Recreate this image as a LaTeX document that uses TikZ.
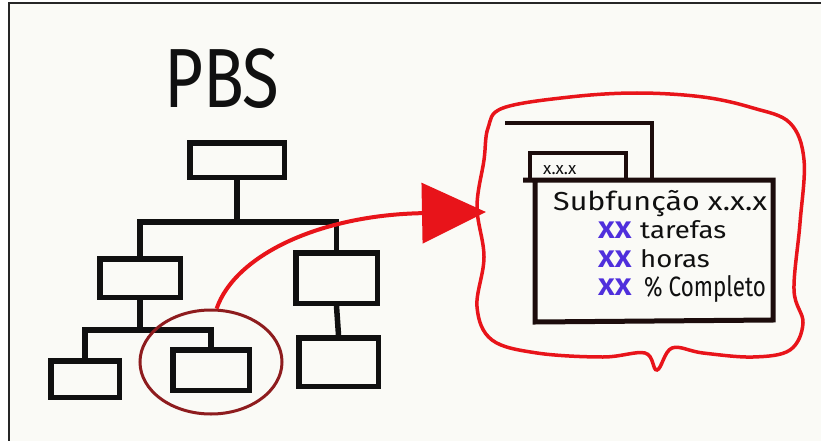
\documentclass[tikz,border=0pt]{standalone}
\usepackage{fontspec}
\setmainfont{Fira Sans}
\usetikzlibrary{arrows.meta,shapes.geometric}
\definecolor{paper}{HTML}{FAFAF6}
\definecolor{ink}{HTML}{101010}
\definecolor{penred}{HTML}{E8141A}
\definecolor{darkred}{HTML}{8E1C1E}
\definecolor{xxblue}{HTML}{4F2FDC}
\definecolor{cardink}{HTML}{1C0C0C}
\begin{document}
\begin{tikzpicture}[x=1pt,y=-1pt,
  pbox/.style={draw=ink,line width=5.5pt,inner sep=0pt,rectangle},
  link/.style={draw=ink,line width=5.5pt},
  card/.style={draw=cardink,line width=4.5pt},
  label/.style={inner sep=0pt,anchor=base west,text=ink},
  xx/.style={inner sep=0pt,anchor=base west,text=xxblue,font=\fontsize{24}{26}\selectfont\bfseries}]
\useasboundingbox (0,0) rectangle (821,441);
\fill[white] (0,0) rectangle (821,441);
\fill[paper] (9,3) rectangle (821,441);
\draw[black!85,line width=2pt] (9,441) -- (9,3) -- (821,3);

% title
\node[label] (title) at (164,108) {\scalebox{0.8}[1]{\fontsize{84}{84}\selectfont PBS}};

% tree boxes
\node[pbox,minimum width=94.5,minimum height=34.5] (root) at (237,160) {};
\node[pbox,minimum width=80.5,minimum height=38.5] (lm) at (140,278) {};
\node[pbox,minimum width=81.5,minimum height=50.5] (rm) at (336.5,278) {};
\node[pbox,minimum width=68.5,minimum height=36.5] (bl) at (85,379) {};
\node[pbox,minimum width=76.5,minimum height=40.5] (bm) at (211,370) {};
\node[pbox,minimum width=79.5,minimum height=48.5] (br) at (338.5,362) {};

% tree connectors
\coordinate (j1) at (0,222);
\coordinate (j2) at (0,330);
\draw[link] (root.south) -- (root.south |- j1);
\draw[link] (lm.north) -- (lm.north |- j1) -- (rm.north |- j1) -- (rm.north);
\draw[link] (lm.south) -- (lm.south |- j2);
\draw[link] (bl.north) -- (bl.north |- j2) -- (bm.north |- j2) -- (bm.north);
\draw[link] (rm.south) -- (br.north);

% highlight ellipse
\node[draw=darkred,line width=3pt,ellipse,minimum width=142,minimum height=104] (focus) at (211,362) {};

% red blob around detail card
\draw[penred,line width=3.5pt] plot[smooth cycle,tension=0.6] coordinates {
 (488,128) (503,108) (570,97) (637,93) (703,97) (753,108) (790,123)
 (804,160) (800,223) (794,290) (803,323) (790,350) (753,357) (703,353)
 (672,348) (657,370) (645,353) (603,357) (537,353) (492,340) (477,307)
 (484,257) (477,207) (484,160)};

% arrow
\coordinate (tip) at (486,212);
\draw[penred,line width=4pt,-{Triangle[length=64pt,width=60pt]}]
  (focus.84) .. controls (235,255) and (320,215) .. (tip);

% detail card
\draw[card] (505,123) -- (652,123) -- (652,180);
\draw[card] (530,180) |- (626,153) -- (626,180);
\draw[card,line width=5pt] (523,180) -- (773,180) -- (773,320) -- (535,322) -- (535,180);

\node[label] (tabtext) at (543,174) {\fontsize{17}{19}\selectfont x.x.x};
\node[label] (head) at (553,210) {\scalebox{1.17}[1]{\fontsize{26}{28}\selectfont Subfunção x.x.x}};
\node[xx] (x1) at (598,238) {\scalebox{1.2}[1]{XX}};
\node[label] (t1) at (640,238) {\scalebox{1.15}[1]{\fontsize{24}{26}\selectfont tarefas}};
\node[xx] (x2) at (598,267) {\scalebox{1.2}[1]{XX}};
\node[label] (t2) at (640,267) {\scalebox{1.15}[1]{\fontsize{24}{26}\selectfont horas}};
\node[xx] (x3) at (598,295) {\scalebox{1.2}[1]{XX}};
\node[label] (t3) at (644,296) {\scalebox{0.8}[1]{\fontsize{28}{30}\selectfont \% Completo}};
\end{tikzpicture}
\end{document}
